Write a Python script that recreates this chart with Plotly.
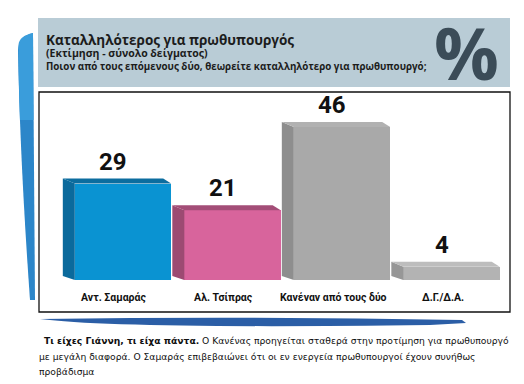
import plotly.graph_objects as go

# ---- data ----
categories = ["Αντ. Σαμαράς", "Αλ. Τσίπρας", "Κανέναν από τους δύο", "Δ.Γ./Δ.Α."]
values = [29, 21, 46, 4]
front_colors = ["#0a93d2", "#d8649c", "#a9a9a9", "#b3b3b3"]
side_colors = ["#0b6a9c", "#9c4a72", "#8e8e8e", "#979797"]
top_colors = ["#0c6d9f", "#a34d77", "#b1b1b1", "#bdbdbd"]

title = "Καταλληλότερος για πρωθυπουργός"
subtitle = "(Εκτίμηση - σύνολο δείγματος)"
question = "Ποιον από τους επόμενους δύο, θεωρείτε καταλληλότερο για πρωθυπουργό;"
caption_bold = "Τι είχες Γιάννη, τι είχα πάντα."
caption_lines = [
    " Ο Κανένας προηγείται σταθερά στην προτίμηση για πρωθυπουργό",
    "με μεγάλη διαφορά. Ο Σαμαράς επιβεβαιώνει ότι οι εν ενεργεία πρωθυπουργοί έχουν συνήθως",
    "προβάδισμα",
]

OFF = 8  # page body margin
W, H = 524 - OFF, 384 - OFF
ML, MR, MT, MB = 39 - OFF, W - (510 - OFF), 92 - OFF, H - (312 - OFF)
PW, PH = W - ML - MR, H - MT - MB

XR = [-0.767, 3.534]
YR = [-9.6, 56.5]
xpx = PW / (XR[1] - XR[0])
ypx = PH / (YR[1] - YR[0])

BW = 0.88
dxl = -12 / xpx
dxr = -8 / xpx
dy = 5 / ypx


def px(x):
    return (x - OFF - ML) / PW


def py(y):
    return (H - MB - (y - OFF)) / PH


def P(x, y):
    return "%f,%f" % (px(x), py(y))


fig = go.Figure()

idx = list(range(len(values)))

# side and top faces (3D effect), computed from values
for i, v in enumerate(values):
    fl = i - BW / 2
    fr = i + BW / 2
    fig.add_trace(go.Scatter(
        x=[fl, fl, fl + dxl, fl + dxl, fl],
        y=[0, v, v + dy, dy * 0.8, 0],
        fill="toself", fillcolor=side_colors[i], mode="lines",
        line=dict(width=0, color=side_colors[i]), hoverinfo="skip", showlegend=False))
    fig.add_trace(go.Scatter(
        x=[fl, fr, fr + dxr, fl + dxl, fl],
        y=[v, v, v + dy, v + dy, v],
        fill="toself", fillcolor=top_colors[i], mode="lines",
        line=dict(width=0, color=top_colors[i]), hoverinfo="skip", showlegend=False))

fig.add_trace(go.Bar(
    x=idx, y=values, width=BW, marker=dict(color=front_colors, line=dict(width=0)),
    showlegend=False, hoverinfo="skip"))

num_font = dict(family="Roboto, Liberation Sans Narrow, sans-serif", size=24, color="#111111")
cat_font = dict(family="Roboto, Liberation Sans Narrow, sans-serif", size=10.5, color="#111111")

for i, v in enumerate(values):
    fig.add_annotation(x=i, y=v + dy, text="<b>%d</b>" % v, showarrow=False,
                       xanchor="center", yanchor="bottom", yshift=1, xshift=-10,
                       font=num_font)
    fig.add_annotation(x=i, y=-5.1, text="<b>%s</b>" % categories[i], showarrow=False,
                       xanchor="center", yanchor="middle", xshift=-9, font=cat_font)

shapes = []
# header background
shapes.append(dict(type="rect", xref="paper", yref="paper",
                   x0=px(38), x1=px(510), y0=py(87), y1=py(18),
                   fillcolor="#b9ccd6", line=dict(width=0), layer="below"))
# left blue swoosh (two tones to suggest its gradient)
shapes.append(dict(type="path", xref="paper", yref="paper",
                   path="M %s Q %s %s L %s L %s Q %s %s Z" % (
                       P(18, 50), P(19, 36), P(33, 33), P(35, 300), P(30, 300),
                       P(20, 160), P(18, 50)),
                   fillcolor="#2c86c9", line=dict(width=0), layer="below"))
shapes.append(dict(type="path", xref="paper", yref="paper",
                   path="M %s Q %s %s L %s L %s Q %s %s Z" % (
                       P(18.5, 45), P(19, 36), P(33, 33), P(33.5, 120), P(20, 120),
                       P(18.5, 80), P(18.5, 45)),
                   fillcolor="#3a9ddb", line=dict(width=0), layer="below"))
# bottom swoosh
shapes.append(dict(type="path", xref="paper", yref="paper",
                   path="M %s Q %s %s L %s L %s Q %s %s Z" % (
                       P(40, 319), P(250, 316), P(462, 320), P(466, 323), P(430, 325),
                       P(120, 329), P(40, 319)),
                   fillcolor="#2b5ea6", line=dict(width=0), layer="below"))
# chart box border
shapes.append(dict(type="rect", xref="paper", yref="paper", x0=0, x1=1, y0=0, y1=1,
                   line=dict(color="#111111", width=1.3), fillcolor="rgba(0,0,0,0)"))
fig.update_layout(shapes=shapes)

hfont = "Open Sans, Noto Sans, sans-serif"
fig.add_annotation(xref="paper", yref="paper", x=px(45), y=py(40.5), text="<b>%s</b>" % title,
                   showarrow=False, xanchor="left", yanchor="middle", borderpad=0,
                   font=dict(family=hfont, size=13.5, color="#1c1c1c"))
fig.add_annotation(xref="paper", yref="paper", x=px(45), y=py(53.5), text="<b>%s</b>" % subtitle,
                   showarrow=False, xanchor="left", yanchor="middle", borderpad=0,
                   font=dict(family=hfont, size=10.5, color="#1c1c1c"))
fig.add_annotation(xref="paper", yref="paper", x=px(45), y=py(66.5), text="<b>%s</b>" % question,
                   showarrow=False, xanchor="left", yanchor="middle", borderpad=0,
                   font=dict(family=hfont, size=9.8, color="#1c1c1c"))
fig.add_annotation(xref="paper", yref="paper", x=px(466), y=py(52), text="<b>%</b>",
                   showarrow=False, xanchor="center", yanchor="middle", borderpad=0,
                   font=dict(family="Open Sans, Noto Sans, sans-serif", size=72, color="#3b4c58"))

cfont = dict(family="DejaVu Sans, sans-serif", size=9.2, color="#111111")
fig.add_annotation(xref="paper", yref="paper", x=px(42), y=py(340),
                   text="<b>%s</b>%s" % (caption_bold, caption_lines[0]),
                   showarrow=False, xanchor="left", yanchor="middle", font=cfont)
fig.add_annotation(xref="paper", yref="paper", x=px(37), y=py(356), text=caption_lines[1],
                   showarrow=False, xanchor="left", yanchor="middle", font=cfont)
fig.add_annotation(xref="paper", yref="paper", x=px(37), y=py(371), text=caption_lines[2],
                   showarrow=False, xanchor="left", yanchor="middle", font=cfont)

fig.update_xaxes(range=XR, visible=False, fixedrange=True)
fig.update_yaxes(range=YR, visible=False, fixedrange=True)
fig.update_layout(width=W, height=H, margin=dict(l=ML, r=MR, t=MT, b=MB),
                  paper_bgcolor="white", plot_bgcolor="white", bargap=0)

fig.write_html("out.html")
